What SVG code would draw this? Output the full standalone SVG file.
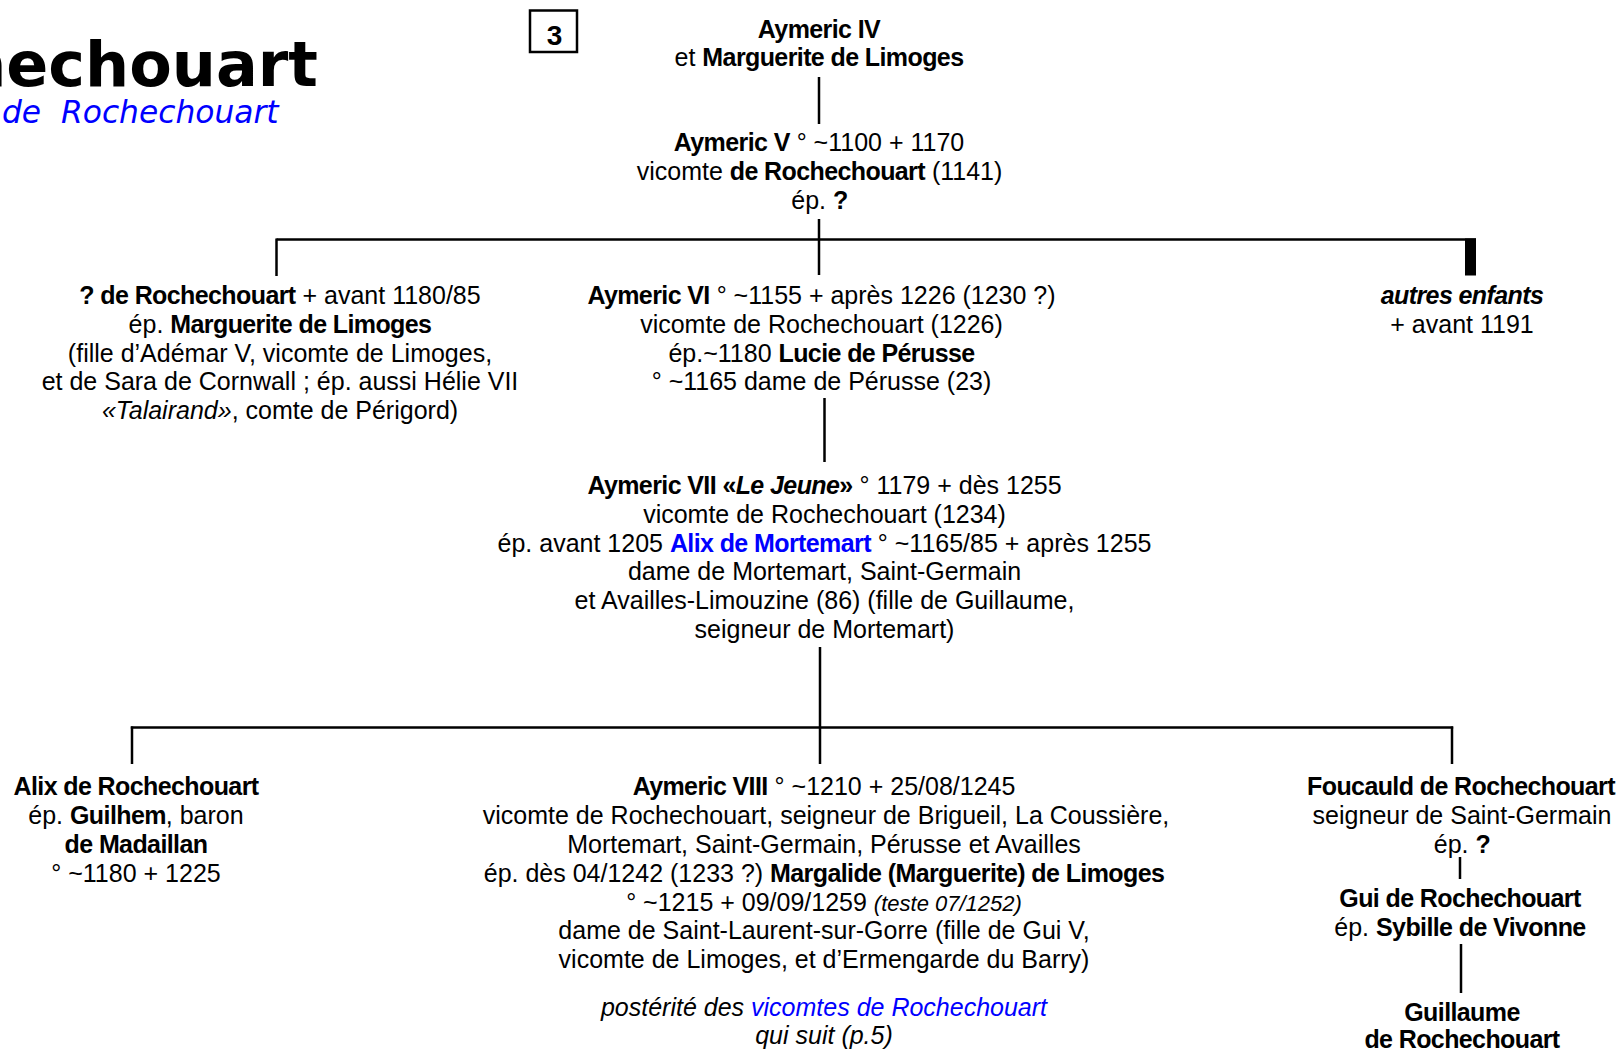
<svg xmlns="http://www.w3.org/2000/svg" width="1618" height="1049" viewBox="0 0 1618 1049">
<style>
  .t { font-family: "Liberation Sans", Arial, sans-serif; font-size: 25px; fill: #000; text-anchor: middle; }
  .b { font-weight: bold; letter-spacing: -0.6px; }
  .i { font-style: italic; }
  .blue { fill: #0000FF; }
  .sm { font-size: 22px; }
  .conn line { stroke: #000; stroke-width: 2.5; fill: none; }
</style>
<rect width="1618" height="1049" fill="#fff"/>

<g id="title">
  <text x="318" y="86" text-anchor="end" style="font-family:'DejaVu Sans',Verdana,sans-serif;font-weight:bold;font-size:62px;fill:#000">Rochechouart</text>
  <text x="2" y="123" style="font-family:'DejaVu Sans',Verdana,sans-serif;font-style:italic;font-size:31.3px;fill:#0000FF">de&#160; Rochechouart</text>
</g>

<g id="page-number">
  <rect x="530" y="10.5" width="47" height="41.5" fill="none" stroke="#000" stroke-width="2.5"/>
  <text class="t" x="554.5" y="45" style="font-size:28px;font-weight:bold">3</text>
</g>

<g class="conn" id="connectors">
  <line x1="819" y1="77" x2="819" y2="124"/>
  <line x1="819" y1="219" x2="819" y2="275"/>
  <line x1="276.5" y1="239.5" x2="1476" y2="239.5"/>
  <line x1="276.5" y1="238.5" x2="276.5" y2="276"/>
  <rect x="1465" y="238.5" width="11" height="37" fill="#000"/>
  <line x1="824.5" y1="398" x2="824.5" y2="462"/>
  <line x1="820" y1="647" x2="820" y2="764"/>
  <line x1="130.8" y1="727.5" x2="1453.2" y2="727.5"/>
  <line x1="132" y1="726.5" x2="132" y2="764"/>
  <line x1="1452" y1="726.5" x2="1452" y2="764"/>
  <line x1="1460" y1="857" x2="1460" y2="879"/>
  <line x1="1461" y1="944" x2="1461" y2="993"/>
</g>

<g id="aymeric-iv">
  <text class="t" x="819" y="37.5"><tspan class="b">Aymeric IV</tspan></text>
  <text class="t" x="819" y="66">et <tspan class="b">Marguerite de Limoges</tspan></text>
</g>

<g id="aymeric-v">
  <text class="t" x="819" y="151"><tspan class="b">Aymeric V</tspan> ° ~1100 + 1170</text>
  <text class="t" x="819.5" y="180">vicomte <tspan class="b">de Rochechouart</tspan> (1141)</text>
  <text class="t" x="819.5" y="209">ép. <tspan class="b">?</tspan></text>
</g>

<g id="x-de-rochechouart">
  <text class="t" x="280" y="304"><tspan class="b">? de Rochechouart</tspan> + avant 1180/85</text>
  <text class="t" x="280" y="332.5">ép. <tspan class="b">Marguerite de Limoges</tspan></text>
  <text class="t" x="280" y="361.5">(fille d’Adémar V, vicomte de Limoges,</text>
  <text class="t" x="280" y="390">et de Sara de Cornwall ; ép. aussi Hélie VII</text>
  <text class="t" x="280" y="419"><tspan class="i">«Talairand»</tspan>, comte de Périgord)</text>
</g>

<g id="aymeric-vi">
  <text class="t" x="821.5" y="304"><tspan class="b">Aymeric VI</tspan> ° ~1155 + après 1226 (1230 ?)</text>
  <text class="t" x="821.5" y="332.5">vicomte de Rochechouart (1226)</text>
  <text class="t" x="821.5" y="361.5">ép.~1180 <tspan class="b">Lucie de Pérusse</tspan></text>
  <text class="t" x="821.5" y="390">° ~1165 dame de Pérusse (23)</text>
</g>

<g id="autres-enfants">
  <text class="t" x="1462" y="304"><tspan class="b i">autres enfants</tspan></text>
  <text class="t" x="1462" y="332.5">+ avant 1191</text>
</g>

<g id="aymeric-vii">
  <text class="t" x="824.5" y="493.5"><tspan class="b">Aymeric VII «<tspan class="i">Le Jeune</tspan>»</tspan> ° 1179 + dès 1255</text>
  <text class="t" x="824.5" y="522.5">vicomte de Rochechouart (1234)</text>
  <text class="t" x="824.5" y="551.5">ép. avant 1205 <tspan class="b blue">Alix de Mortemart</tspan> ° ~1165/85 + après 1255</text>
  <text class="t" x="824.5" y="580">dame de Mortemart, Saint-Germain</text>
  <text class="t" x="824.5" y="609">et Availles-Limouzine (86) (fille de Guillaume,</text>
  <text class="t" x="824.5" y="638">seigneur de Mortemart)</text>
</g>

<g id="alix-de-rochechouart">
  <text class="t" x="136" y="795"><tspan class="b">Alix de Rochechouart</tspan></text>
  <text class="t" x="136" y="824">ép. <tspan class="b">Guilhem</tspan>, baron</text>
  <text class="t" x="136" y="852.5"><tspan class="b">de Madaillan</tspan></text>
  <text class="t" x="136" y="881.5">° ~1180 + 1225</text>
</g>

<g id="aymeric-viii">
  <text class="t" x="824" y="795"><tspan class="b">Aymeric VIII</tspan> ° ~1210 + 25/08/1245</text>
  <text class="t" x="826" y="824">vicomte de Rochechouart, seigneur de Brigueil, La Coussière,</text>
  <text class="t" x="824" y="852.5">Mortemart, Saint-Germain, Pérusse et Availles</text>
  <text class="t" x="824" y="881.5">ép. dès 04/1242 (1233 ?) <tspan class="b">Margalide (Marguerite) de Limoges</tspan></text>
  <text class="t" x="824" y="910.5">° ~1215 + 09/09/1259 <tspan class="i sm">(teste 07/1252)</tspan></text>
  <text class="t" x="824" y="939">dame de Saint-Laurent-sur-Gorre (fille de Gui V,</text>
  <text class="t" x="824" y="968">vicomte de Limoges, et d’Ermengarde du Barry)</text>
  <text class="t i" x="824" y="1016">postérité des <tspan class="blue">vicomtes de Rochechouart</tspan></text>
  <text class="t i" x="824" y="1043.5">qui suit (p.5)</text>
</g>

<g id="foucauld-de-rochechouart">
  <text class="t" x="1461" y="795"><tspan class="b">Foucauld de Rochechouart</tspan></text>
  <text class="t" x="1462" y="824">seigneur de Saint-Germain</text>
  <text class="t" x="1462" y="852.5">ép. <tspan class="b">?</tspan></text>
</g>

<g id="gui-de-rochechouart">
  <text class="t" x="1460" y="907"><tspan class="b">Gui de Rochechouart</tspan></text>
  <text class="t" x="1460" y="936">ép. <tspan class="b">Sybille de Vivonne</tspan></text>
</g>

<g id="guillaume-de-rochechouart">
  <text class="t" x="1462" y="1021"><tspan class="b">Guillaume</tspan></text>
  <text class="t" x="1462" y="1047.5"><tspan class="b">de Rochechouart</tspan></text>
</g>
</svg>
